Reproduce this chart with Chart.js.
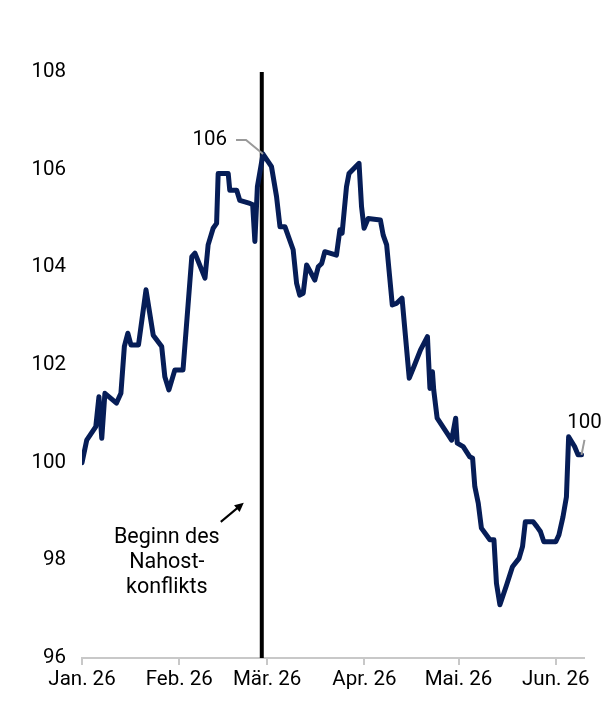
<!DOCTYPE html>
<html>
<head>
<meta charset="utf-8">
<script src="https://cdn.jsdelivr.net/npm/chart.js@4.4.1/dist/chart.umd.min.js"></script>
<style>
  html, body { margin: 0; padding: 0; background: #fff; }
  #wrap { width: 614px; height: 711px; }
</style>
</head>
<body>
<div id="wrap"><canvas id="myChart" width="614" height="711"></canvas></div>
<script>
// Tage seit 1. Januar 2026
const days = [
  0, 1.5, 4.4, 5.4, 6.3, 7.3, 11, 12.4, 13.5, 14.6, 15.6, 18, 20.4, 22.7, 25.4, 26.4, 27.7, 29.6, 32.2,
  35, 36, 39.2, 40.2, 41.8, 42.9, 43.4, 46.6, 47.1, 49.3, 50.3, 53.5, 54.4, 55.1, 55.9, 57.7,
  60.4, 62, 63.1, 64.7, 67.3, 68.4, 69.4, 70.5, 71.6, 74.2, 75.3, 76.4, 77.4, 81.1, 82.2, 82.9, 84.3, 85.1, 88.3,
  89.1, 89.9, 91.2, 95.1, 96, 97.1, 98.9, 100.2, 102, 104.3, 105.8, 107.9, 110.1, 110.9, 111.7, 112.1, 113.2,
  116.4, 117.8, 119.1, 119.6, 121.5, 123.6, 124.5, 125.2, 126.3, 127.3, 130, 131.3, 132.1, 133.2, 135.3,
  137.2, 139.3, 140.4, 141.3, 143.8, 145, 146.1, 147.2, 151, 152, 153.3, 154.4, 155.1, 157, 158.1, 159.2
];
const values = [
  100.0, 100.46, 100.74, 101.35, 100.5, 101.42, 101.22, 101.42, 102.38, 102.65, 102.41, 102.41, 103.54, 102.61, 102.38, 101.76, 101.49, 101.9, 101.9,
  104.22, 104.29, 103.78, 104.46, 104.8, 104.9, 105.92, 105.92, 105.58, 105.58, 105.37, 105.31, 105.28, 104.53, 105.65, 106.32,
  106.06, 105.45, 104.83, 104.83, 104.36, 103.67, 103.43, 103.47, 104.05, 103.74, 104.01, 104.08, 104.32, 104.25, 104.77, 104.7, 105.65, 105.92, 106.13,
  105.24, 104.8, 105.0, 104.97, 104.66, 104.46, 103.23, 103.26, 103.37, 101.73, 101.97, 102.31, 102.58, 101.52, 101.86, 101.49, 100.91,
  100.6, 100.46, 100.91, 100.4, 100.33, 100.12, 100.09, 99.51, 99.17, 98.66, 98.42, 98.42, 97.53, 97.09, 97.49,
  97.87, 98.04, 98.28, 98.79, 98.79, 98.69, 98.59, 98.38, 98.38, 98.52, 98.89, 99.3, 100.53, 100.33, 100.16, 100.16
];
const monthTicks = [0, 31, 59, 90, 120, 151];
const monthLabels = ['Jan. 26', 'Feb. 26', 'Mär. 26', 'Apr. 26', 'Mai. 26', 'Jun. 26'];
const yTicks = [96, 98, 100, 102, 104, 106, 108];
const conflictDay = 57.3;
const conflictText = ['Beginn des', 'Nahost-', 'konflikts'];
const peakLabel = '106';
const endLabel = '100';

const FONT = 'Roboto, "Liberation Sans", sans-serif';

const annotations = {
  id: 'annotations',
  beforeDatasetsDraw(chart) {
    const {ctx, chartArea, scales: {x}} = chart;
    const lx = x.getPixelForValue(conflictDay);
    ctx.save();
    ctx.strokeStyle = '#000';
    ctx.lineWidth = 4;
    ctx.beginPath();
    ctx.moveTo(lx, chartArea.top);
    ctx.lineTo(lx, chartArea.bottom);
    ctx.stroke();
    ctx.restore();
  },
  afterDatasetsDraw(chart) {
    const {ctx, scales: {x, y}} = chart;
    ctx.save();
    ctx.font = '20.5px ' + FONT;
    ctx.fillStyle = '#000';

    // Höchstwert
    let iMax = 0;
    values.forEach((v, i) => { if (v > values[iMax]) iMax = i; });
    const px = x.getPixelForValue(days[iMax]);
    const py = y.getPixelForValue(values[iMax]);
    ctx.strokeStyle = '#9a9a9a';
    ctx.lineWidth = 2;
    ctx.beginPath();
    ctx.moveTo(px - 27, py - 14);
    ctx.lineTo(px - 17, py - 14);
    ctx.lineTo(px, py);
    ctx.stroke();
    ctx.textAlign = 'right';
    ctx.textBaseline = 'middle';
    ctx.fillText(peakLabel, px - 36, py - 14);

    // letzter Wert
    const n = values.length - 1;
    const ex = x.getPixelForValue(days[n]);
    const ey = y.getPixelForValue(values[n]);
    ctx.beginPath();
    ctx.moveTo(ex + 3, ey - 15);
    ctx.lineTo(ex, ey);
    ctx.stroke();
    ctx.textAlign = 'center';
    ctx.fillText(endLabel, ex + 3, ey - 32);

    // Beschriftung Konflikt
    ctx.font = '21.5px ' + FONT;
    const lx = x.getPixelForValue(conflictDay);
    const ty = y.getPixelForValue(98.46);
    conflictText.forEach((t, i) => ctx.fillText(t, lx - 95, ty + i * 25));

    // Pfeil
    const ax0 = lx - 41, ay0 = ty - 16;
    const ax1 = lx - 18, ay1 = ty - 35;
    ctx.strokeStyle = '#000';
    ctx.lineWidth = 2;
    ctx.beginPath();
    ctx.moveTo(ax0, ay0);
    ctx.lineTo(ax1 - 5, ay1 + 4);
    ctx.stroke();
    const ang = Math.atan2(ay1 - ay0, ax1 - ax0);
    ctx.beginPath();
    ctx.moveTo(ax1, ay1);
    ctx.lineTo(ax1 - 10 * Math.cos(ang - 0.45), ay1 - 10 * Math.sin(ang - 0.45));
    ctx.lineTo(ax1 - 10 * Math.cos(ang + 0.45), ay1 - 10 * Math.sin(ang + 0.45));
    ctx.closePath();
    ctx.fillStyle = '#000';
    ctx.fill();
    ctx.restore();
  }
};

const ctx = document.getElementById('myChart').getContext('2d');
const myChart = new Chart(ctx, {
  type: 'line',
  data: {
    datasets: [{
      data: days.map((d, i) => ({x: d, y: values[i]})),
      borderColor: '#061d57',
      borderWidth: 5,
      pointRadius: 0,
      tension: 0,
      borderJoinStyle: 'round',
      borderCapStyle: 'round'
    }]
  },
  options: {
    responsive: false,
    animation: false,
    layout: { padding: { top: 72, right: 30, left: 0, bottom: 0 } },
    plugins: { legend: { display: false }, tooltip: { enabled: false } },
    scales: {
      x: {
        type: 'linear',
        min: 0,
        max: 160,
        afterBuildTicks: axis => { axis.ticks = monthTicks.map(v => ({value: v})); },
        afterFit: axis => { axis.height = 53; },
        ticks: {
          autoSkip: false,
          maxRotation: 0,
          padding: 3,
          color: '#000',
          font: { family: FONT, size: 20.5 },
          callback: v => monthLabels[monthTicks.indexOf(v)]
        },
        grid: { drawOnChartArea: false, color: '#c8c8c8', lineWidth: 2, tickLength: 7 },
        border: { display: true, color: '#c8c8c8', width: 2 }
      },
      y: {
        min: 96,
        max: 108,
        afterBuildTicks: axis => { axis.ticks = yTicks.map(v => ({value: v})); },
        afterFit: axis => { axis.width = 82; },
        ticks: {
          padding: 16,
          color: '#000',
          font: { family: FONT, size: 20.5 }
        },
        grid: { display: false, drawTicks: false },
        border: { display: false }
      }
    }
  },
  plugins: [annotations]
});
</script>
</body>
</html>
